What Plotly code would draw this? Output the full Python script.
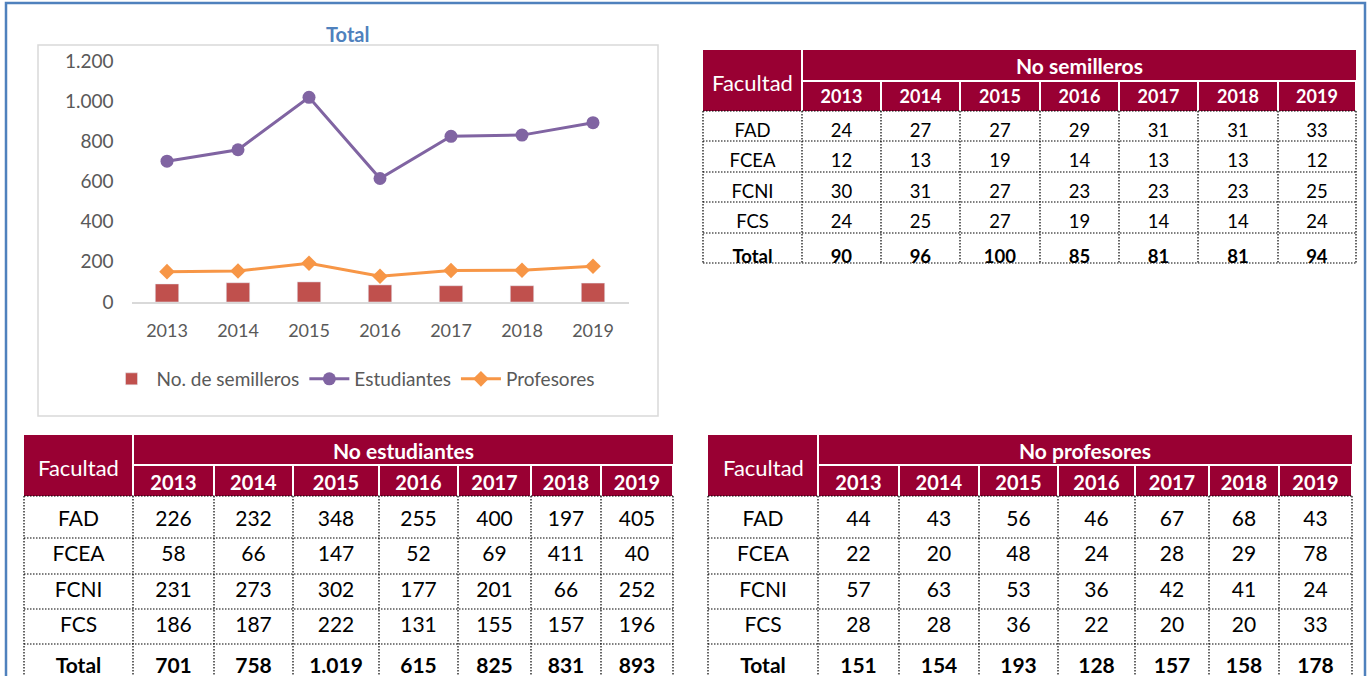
import plotly.graph_objects as go

W, H = 1370, 676

anios = ["2013", "2014", "2015", "2016", "2017", "2018", "2019"]
facultades = ["FAD", "FCEA", "FCNI", "FCS"]

semilleros_fad = [24, 27, 27, 29, 31, 31, 33]
semilleros_fcea = [12, 13, 19, 14, 13, 13, 12]
semilleros_fcni = [30, 31, 27, 23, 23, 23, 25]
semilleros_fcs = [24, 25, 27, 19, 14, 14, 24]
semilleros_total = [90, 96, 100, 85, 81, 81, 94]

estudiantes_fad = [226, 232, 348, 255, 400, 197, 405]
estudiantes_fcea = [58, 66, 147, 52, 69, 411, 40]
estudiantes_fcni = [231, 273, 302, 177, 201, 66, 252]
estudiantes_fcs = [186, 187, 222, 131, 155, 157, 196]
estudiantes_total = [701, 758, 1019, 615, 825, 831, 893]

profesores_fad = [44, 43, 56, 46, 67, 68, 43]
profesores_fcea = [22, 20, 48, 24, 28, 29, 78]
profesores_fcni = [57, 63, 53, 36, 42, 41, 24]
profesores_fcs = [28, 28, 36, 22, 20, 20, 33]
profesores_total = [151, 154, 193, 128, 157, 158, 178]

GRANATE = "#990033"
GRIS = "#595959"
FUENTE = "Lato"
TRANSP = "rgba(0,0,0,0)"


def px(x):
    return x / W


def py(y):
    return 1 - y / H


def fmt(v):
    return f"{v:,}".replace(",", ".")


def rect(fig, x0, x1, y0, y1):
    fig.add_shape(type="rect", xref="paper", yref="paper", layer="below",
                  x0=px(x0), x1=px(x1), y0=py(y1), y1=py(y0),
                  fillcolor=GRANATE, line_width=0)


def add_tabla(fig, titulo, filas, total, left, top, anchos, band_h, lineas,
              row_h, texto_anio, texto_fila, f_head=20, f_cell=21):
    """Agrega una tabla con cabecera de dos niveles (banda + años)."""
    xs = [left]
    for a in anchos:
        xs.append(xs[-1] + a)
    right = xs[-1]
    body_top, body_bottom = lineas[0], lineas[-1]

    # fondo granate de la cabecera con separadores blancos
    rect(fig, left, xs[1] - 1, top, body_top)
    rect(fig, xs[1] + 1, right, top, top + band_h)
    for i in range(1, len(xs) - 1):
        rect(fig, xs[i] + 1, xs[i + 1] - 1, top + band_h + 2, body_top)

    fig.add_annotation(x=px((xs[1] + right) / 2), y=py(top + band_h / 2 + 1),
                       xref="paper", yref="paper", xanchor="center", yanchor="middle",
                       text=f"<b>{titulo}</b>", showarrow=False,
                       font=dict(color="white", size=21, family=FUENTE))
    fig.add_annotation(x=px((left + xs[1]) / 2), y=py((top + body_top) / 2 + 2),
                       xref="paper", yref="paper", xanchor="center", yanchor="middle",
                       text="Facultad", showarrow=False,
                       font=dict(color="white", size=22, family=FUENTE))

    columnas = [facultades + ["<b>Total</b>"]]
    for i in range(len(anios)):
        columnas.append([fmt(f[i]) for f in filas] + [f"<b>{fmt(total[i])}</b>"])

    # go.Table escribe el texto arriba de cada celda: se compensa con la posición
    head_top = texto_anio - (8 + 0.6 * f_head)
    cell_top = texto_fila - (12 + 0.6 * f_cell)
    fig.add_trace(go.Table(
        domain=dict(x=[px(left), px(right)],
                    y=[max(0, py(cell_top + 5 * row_h + 8)), py(head_top)]),
        columnwidth=anchos,
        header=dict(values=[""] + [f"<b>{a}</b>" for a in anios],
                    height=cell_top - head_top, fill_color=TRANSP, align="center",
                    line=dict(color=TRANSP, width=0),
                    font=dict(color="white", size=f_head, family=FUENTE)),
        cells=dict(values=columnas, height=row_h, align="center",
                   fill_color=TRANSP, line=dict(color=TRANSP, width=0),
                   font=dict(color="black", size=f_cell, family=FUENTE)),
    ))

    # bordes punteados del cuerpo
    punteado = dict(color="black", width=1.2, dash="1.5px,1.5px")
    for x in xs:
        fig.add_shape(type="line", xref="paper", yref="paper",
                      x0=px(x), x1=px(x), y0=py(body_top), y1=py(body_bottom),
                      line=punteado)
    for y in lineas:
        fig.add_shape(type="line", xref="paper", yref="paper",
                      x0=px(left), x1=px(right), y0=py(y), y1=py(y),
                      line=punteado)


fig = go.Figure()

fig.add_trace(go.Bar(
    x=anios, y=semilleros_total, name="No. de semilleros",
    marker_color="#c0504d", width=0.33,
))
fig.add_trace(go.Scatter(
    x=anios, y=estudiantes_total, name="Estudiantes", mode="lines+markers",
    line=dict(color="#8064a2", width=3), marker=dict(symbol="circle", size=13),
))
fig.add_trace(go.Scatter(
    x=anios, y=profesores_total, name="Profesores", mode="lines+markers",
    line=dict(color="#f79646", width=3), marker=dict(symbol="diamond", size=12),
))

add_tabla(fig, "No semilleros",
          [semilleros_fad, semilleros_fcea, semilleros_fcni, semilleros_fcs],
          semilleros_total, 703, 50, [99, 79, 79, 80, 79, 79, 80, 78],
          band_h=30, lineas=[111, 141, 172, 202, 233, 263], row_h=30.4,
          texto_anio=96, texto_fila=128, f_head=18, f_cell=18.5)
add_tabla(fig, "No estudiantes",
          [estudiantes_fad, estudiantes_fcea, estudiantes_fcni, estudiantes_fcs],
          estudiantes_total, 24, 435, [109, 81, 79, 86, 79, 73, 70, 72],
          band_h=29, lineas=[496, 538, 574, 609, 644, 690], row_h=35.4,
          texto_anio=482, texto_fila=516)
add_tabla(fig, "No profesores",
          [profesores_fad, profesores_fcea, profesores_fcni, profesores_fcs],
          profesores_total, 708, 435, [110, 81, 80, 79, 77, 74, 70, 73],
          band_h=29, lineas=[496, 538, 574, 609, 644, 690], row_h=35.4,
          texto_anio=482, texto_fila=516)

# marco del gráfico y recuadro azul de la hoja
fig.add_shape(type="rect", xref="paper", yref="paper", x0=px(38), x1=px(658),
              y0=py(416), y1=py(45), line=dict(color="#d9d9d9", width=1.5))
fig.add_shape(type="rect", xref="paper", yref="paper", x0=px(6), x1=px(1365),
              y0=py(700), y1=py(3), line=dict(color="#4f81bd", width=2.5))

fig.add_annotation(x=px(348), y=py(34), xref="paper", yref="paper", text="<b>Total</b>",
                   xanchor="center", yanchor="middle", showarrow=False,
                   font=dict(color="#4f81bd", size=20, family=FUENTE))

fig.update_layout(
    width=W, height=H,
    margin=dict(t=0, b=0, l=0, r=0, autoexpand=False),
    paper_bgcolor="white",
    plot_bgcolor="white",
    separators=",.",
    font=dict(family=FUENTE, color=GRIS),
    xaxis=dict(domain=[px(131.5), px(628.5)], type="category", showgrid=False,
               showline=True, linecolor="#d9d9d9", linewidth=1.5, ticks="",
               ticklabelstandoff=12, tickfont=dict(size=18, color=GRIS)),
    yaxis=dict(domain=[py(302), py(61)], range=[0, 1200], dtick=200, tickformat=",",
               showgrid=False, zeroline=False, showline=False, ticks="",
               ticklabelstandoff=17, tickfont=dict(size=19, color=GRIS)),
    legend=dict(orientation="h", x=px(353), y=py(379), xanchor="center", yanchor="middle",
                font=dict(size=19, color=GRIS), itemwidth=40, traceorder="normal"),
)

fig.write_html("out.html", config={"displayModeBar": False},
               post_script="document.body.style.margin='0';document.body.style.overflow='hidden';")
